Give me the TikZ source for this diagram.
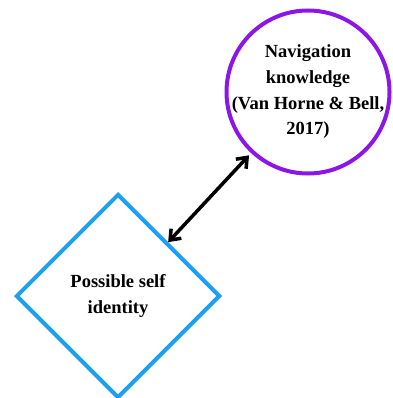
\documentclass[tikz,border=0pt]{standalone}
\usepackage{fontspec}
\setmainfont{Liberation Serif}
\usepackage{tikz}
\usetikzlibrary{positioning}
\usetikzlibrary{shapes.geometric}
\usetikzlibrary{arrows.meta}
\definecolor{navpurple}{RGB}{140,22,232}
\definecolor{selfblue}{RGB}{28,160,242}
\tikzstyle{idea}=[draw=selfblue,diamond,shape aspect=1,line width=4pt,minimum width=204pt,minimum height=204pt,inner sep=0pt,align=center]
\tikzstyle{know}=[draw=navpurple,circle,line width=4pt,minimum size=163pt,inner sep=-20pt,align=center]
\begin{document}
\begin{tikzpicture}[x=1pt,y=-1pt,font=\bfseries\fontsize{18.5}{25.7}\selectfont]
    %\draw [help lines] (0,0) grid (392,398);
    \useasboundingbox (0,0) rectangle (392,398);
    \node [know] (N) at (308,92)  {Navigation\\knowledge\\(Van Horne \& Bell,\\2017)};
    \node [idea] (P) at (118,296) {Possible self\\identity};

    \path [{Straight Barb[length=9pt,width=14pt]}-{Straight Barb[length=9pt,width=14pt]}, line width=3.5pt, shorten >=3pt]
        (P) edge node {} (N);
\end{tikzpicture}
\end{document}
